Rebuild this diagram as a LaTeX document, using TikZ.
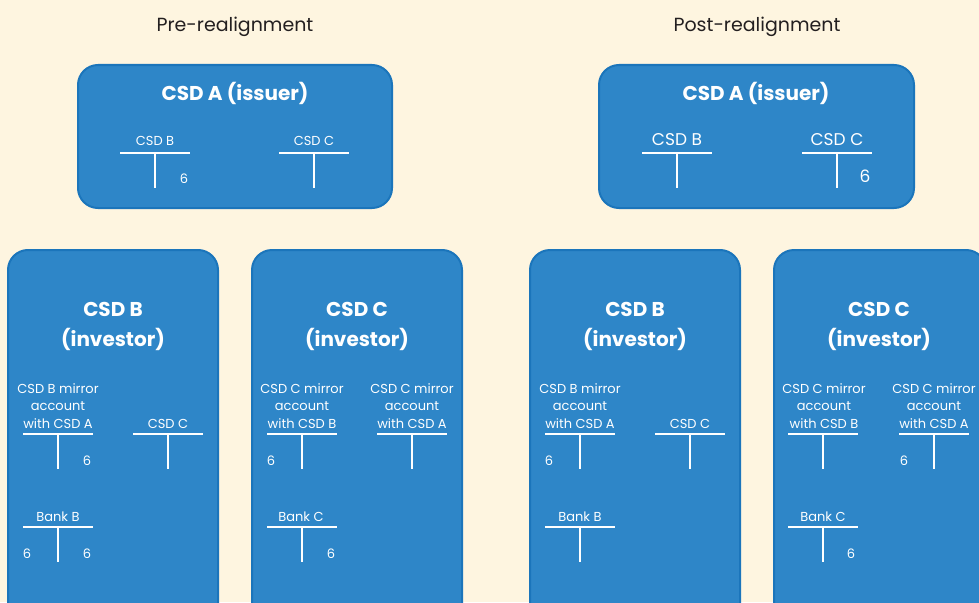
\documentclass[tikz,border=0pt]{standalone}
\usepackage{fontspec}
\setmainfont{Poppins}
\usetikzlibrary{positioning}

\definecolor{paper}{HTML}{FEF5E0}
\definecolor{boxfill}{HTML}{2E86C8}
\definecolor{boxedge}{HTML}{1B75BB}
\definecolor{ink}{HTML}{231F20}

\begin{document}
\begin{tikzpicture}[x=1pt,y=-1pt,
        csdbox/.style={draw=boxedge,fill=boxfill,line width=2pt,rounded corners=20pt},
        heading/.style={anchor=base,text=ink,inner sep=0pt,font=\fontsize{19}{23}\selectfont},
        boxtitle/.style={anchor=base,text=white,inner sep=0pt,align=center,font=\bfseries\fontsize{20}{30}\selectfont},
        acct/.style={anchor=base,text=white,inner sep=0pt,align=center,font=\fontsize{13}{17.5}\selectfont},
        bigacct/.style={acct,font=\fontsize{17}{20}\selectfont},
        tbar/.style={white,line width=2.3pt}]
        \useasboundingbox (0,0) rectangle (979,602);
        \clip (0,0) rectangle (979,602);
        \fill[paper] (0,0) rectangle (979,602);

        % boxes
        \draw[csdbox] (78,65) rectangle (392,208);
        \draw[csdbox] (599,65) rectangle (914,208);
        \draw[csdbox] (8,250) rectangle (218,630);
        \draw[csdbox] (252,250) rectangle (462,630);
        \draw[csdbox] (530,250) rectangle (740,630);
        \draw[csdbox] (774,250) rectangle (986,630);

        \node[heading] (pre) at (235,32) {Pre-realignment};
        \node[heading] (post) at (757,32) {Post-realignment};

        % multi-line nodes sit on their last line
        \node[boxtitle] (issA) at (235,100) {CSD A (issuer)};
        \node[boxtitle] (issApost) at (756,100) {CSD A (issuer)};
        \node[boxtitle] (invB) at (113,346) {CSD B\\(investor)};
        \node[boxtitle] (invC) at (357,346) {CSD C\\(investor)};
        \node[boxtitle] (invBpost) at (635,346) {CSD B\\(investor)};
        \node[boxtitle] (invCpost) at (879,346) {CSD C\\(investor)};

        % T-accounts
        \foreach \x/\y in {155/153,314/153,677/153,837/153,
                58/434,168/434,58/527,302/434,412/434,302/527,
                580/434,690/434,580/527,823/434,934/434,823/527}
            \draw[tbar] (\x-35,\y) -- (\x+35,\y) (\x,\y) -- (\x,\y+35);

        % pre-realignment
        \node[acct] (aB) at (155,145) {CSD B};
        \node[acct] (aC) at (314,145) {CSD C};
        \node[acct] (aB6) at (184,183) {6};
        \node[acct] (bMir) at (58,428) {CSD B mirror\\account\\with CSD A};
        \node[acct] (bC) at (168,428) {CSD C};
        \node[acct] (bBank) at (58,521) {Bank B};
        \node[acct] (bMir6) at (87,465) {6};
        \node[acct] (bBankL6) at (27,558) {6};
        \node[acct] (bBankR6) at (87,558) {6};
        \node[acct] (cMirB) at (302,428) {CSD C mirror\\account\\with CSD B};
        \node[acct] (cMirA) at (412,428) {CSD C mirror\\account\\with CSD A};
        \node[acct] (cBank) at (301,521) {Bank C};
        \node[acct] (cMirB6) at (271,465) {6};
        \node[acct] (cBank6) at (331,558) {6};

        % post-realignment
        \node[bigacct] (paB) at (677,145) {CSD B};
        \node[bigacct] (paC) at (837,145) {CSD C};
        \node[bigacct] (paC6) at (865,182) {6};
        \node[acct] (pbMir) at (580,428) {CSD B mirror\\account\\with CSD A};
        \node[acct] (pbC) at (690,428) {CSD C};
        \node[acct] (pbBank) at (580,521) {Bank B};
        \node[acct] (pbMir6) at (549,465) {6};
        \node[acct] (pcMirB) at (824,428) {CSD C mirror\\account\\with CSD B};
        \node[acct] (pcMirA) at (934,428) {CSD C mirror\\account\\with CSD A};
        \node[acct] (pcBank) at (823,521) {Bank C};
        \node[acct] (pcMirA6) at (904,465) {6};
        \node[acct] (pcBank6) at (851,558) {6};
    \end{tikzpicture}
\end{document}
